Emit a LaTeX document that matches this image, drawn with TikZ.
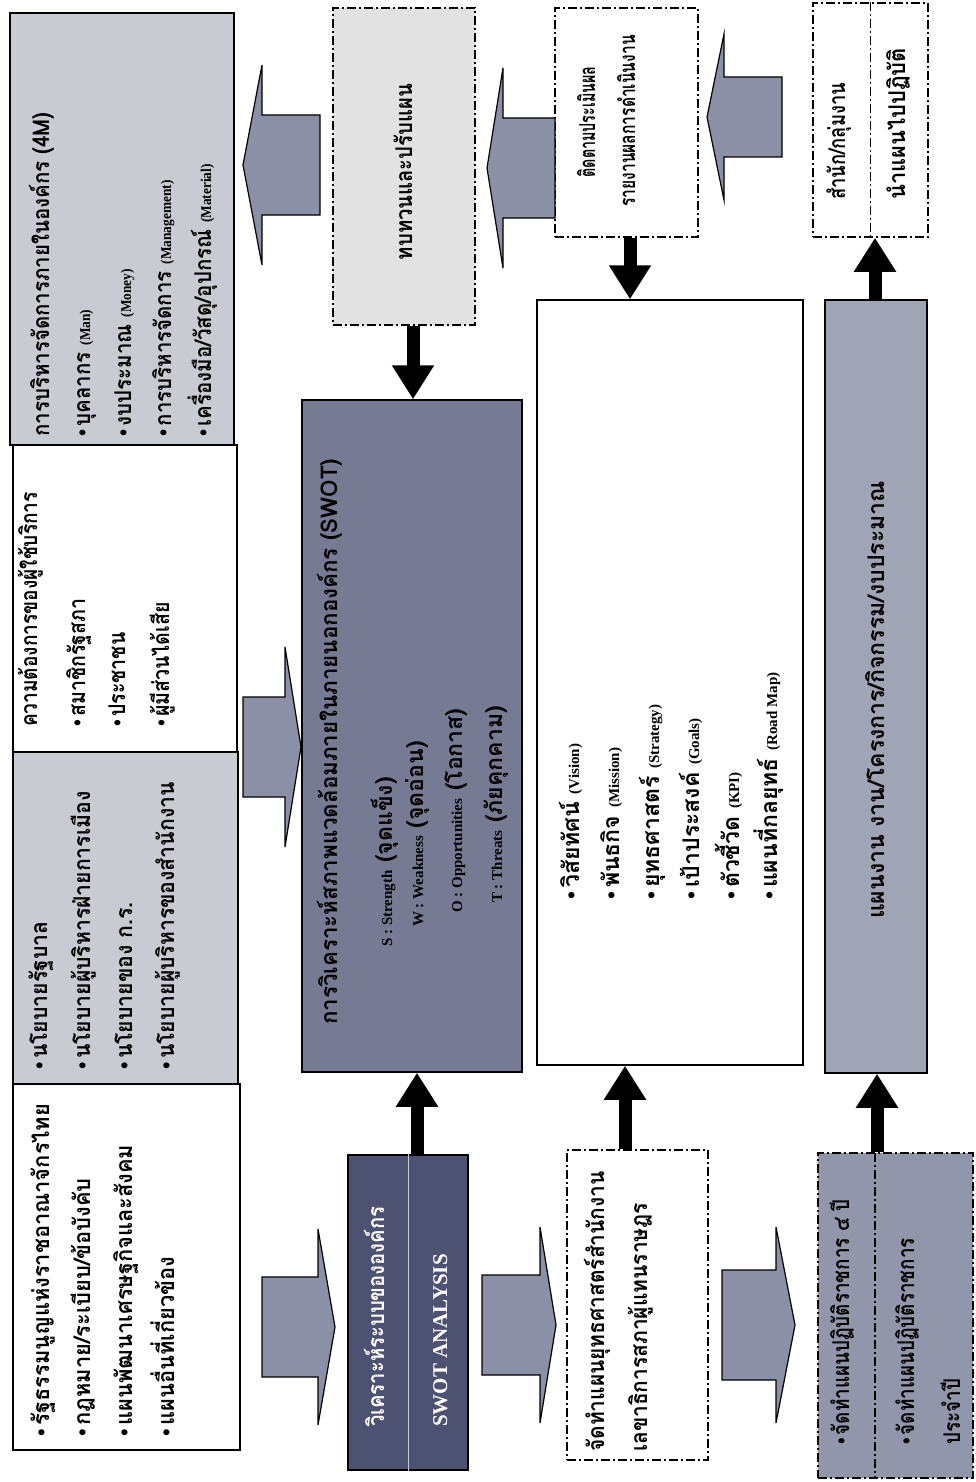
\documentclass[tikz,border=0pt]{standalone}
\usepackage{fontspec}
\newfontfamily\thai[Script=Thai]{Loma}
\newfontfamily\eng{Liberation Serif}
\usetikzlibrary{arrows.meta}
\definecolor{grayA}{HTML}{C8CBD2}
\definecolor{darkA}{HTML}{767B93}
\definecolor{darkB}{HTML}{4E5272}
\definecolor{arrfill}{HTML}{8B90A6}
\definecolor{lightA}{HTML}{E2E2E2}
\definecolor{grayC}{HTML}{A0A5B5}
\definecolor{grayD}{HTML}{9196AB}
\newcommand\E[1]{{\eng\fontsize{15}{17}\selectfont #1}}
\newcommand\bu{{\eng •}\,}
\newcommand\blockarr[6]{\draw[barrow] (#1,{#4-#5}) -- (#2,{#4-#5}) -- (#2,{#4-#6}) -- (#3,#4) -- (#2,{#4+#6}) -- (#2,{#4+#5}) -- (#1,{#4+#5}) -- cycle;}
\newcommand\boxat[6]{\node[#2, minimum width={(#5-#3)*1pt}, minimum height={(#6-#4)*1pt}] (#1) at ({(#3+#5)/2},{(#4+#6)/2}) {};}
\newcommand\thline[5][]{\node[tl,#1] (#2) at ({#3+7},#4) {#5};}
\newcommand\thcent[5][]{\node[tc,#1] (#2) at ({#3+7},#4) {#5};}
\tikzset{
  box/.style={draw, line width=1.5pt, inner sep=0pt},
  dbox/.style={draw, line width=1.5pt, inner sep=0pt, dash pattern=on 9pt off 3pt on 2pt off 3pt},
  tl/.style={rotate=90, anchor=base west, inner sep=0pt, font=\thai\bfseries\fontsize{23}{26}\selectfont},
  tc/.style={tl, anchor=base},
  small/.style={font=\thai\bfseries\fontsize{22}{25}\selectfont},
  bigarr/.style={line width=13pt, -{Triangle[width=40pt,length=34pt]}},
  barrow/.style={draw, line width=1.2pt, fill=arrfill},
}
\begin{document}
\begin{tikzpicture}[x=1pt,y=-1pt]
\fill[white] (0,0) rectangle (975,1482);
\useasboundingbox (0,0) rectangle (975,1482);

% ---- left column boxes
\boxat{D}{box, fill=grayA}{10}{13}{234}{445}
\boxat{C}{box, fill=white}{13}{445}{237}{752}
\boxat{B}{box, fill=grayA}{13}{752}{238}{1084}
\boxat{A}{box, fill=white}{13}{1084}{240}{1450}

\thline[xscale=0.89]{d0}{42}{437}{การบริหารจัดการภายในองค์กร (4M)}
\thline[xscale=0.89]{d1}{83}{437}{\bu บุคลากร \E{(Man)}}
\thline[xscale=0.89]{d2}{124}{437}{\bu งบประมาณ \E{(Money)}}
\thline[xscale=0.89]{d3}{164}{437}{\bu การบริหารจัดการ \E{(Management)}}
\thline[xscale=0.89]{d4}{204}{437}{\bu เครื่องมือ/วัสดุ/อุปกรณ์ \E{(Material)}}

\thline[xscale=0.83]{c0}{30}{727}{ความต้องการของผู้ใช้บริการ}
\thline[xscale=0.85]{c1}{78}{727}{\bu สมาชิกรัฐสภา}
\thline[xscale=0.85]{c2}{118}{727}{\bu ประชาชน}
\thline[xscale=0.85]{c3}{162}{727}{\bu ผู้มีส่วนได้เสีย}

\thline[xscale=0.92]{b1}{40}{1070}{\bu นโยบายรัฐบาล}
\thline[xscale=0.92]{b2}{83}{1070}{\bu นโยบายผู้บริหารฝ่ายการเมือง}
\thline[xscale=0.92]{b3}{125}{1070}{\bu นโยบายของ ก.ร.}
\thline[xscale=0.92]{b4}{167}{1070}{\bu นโยบายผู้บริหารของสำนักงาน}

\thline[xscale=0.95]{a1}{42}{1437}{\bu รัฐธรรมนูญแห่งราชอาณาจักรไทย}
\thline[xscale=0.95]{a2}{83}{1437}{\bu กฎหมาย/ระเบียบ/ข้อบังคับ}
\thline[xscale=0.95]{a3}{125}{1437}{\bu แผนพัฒนาเศรษฐกิจและสังคม}
\thline[xscale=0.95]{a4}{167}{1437}{\bu แผนอื่นที่เกี่ยวข้อง}

% ---- second column
\boxat{tbt}{dbox, fill=lightA}{333}{8}{475}{325}
\thcent[xscale=0.88]{tbt0}{405}{172}{ทบทวนและปรับแผน}

\boxat{swot}{box, fill=darkA}{302}{400}{522}{1072}
\thline[xscale=0.97]{s0}{330}{1025}{การวิเคราะห์สภาพแวดล้อมภายในภายนอกองค์กร (SWOT)}
\thline{s1}{385}{947}{\E{S : Strength} (จุดแข็ง)}
\thline{s2}{416}{927}{\E{W : Weakness} (จุดอ่อน)}
\thline{s3}{455}{913}{\E{O : Opportunities} (โอกาส)}
\thline{s4}{495}{903}{\E{T : Threats} (ภัยคุกคาม)}

\boxat{swotan}{box, fill=darkB}{348}{1155}{468}{1470}
\draw[white!70!darkB, line width=1pt] (swotan.north) -- (swotan.south);
\thline[text=white, xscale=0.88]{sa0}{377}{1427}{วิเคราะห์ระบบขององค์กร}
\node[tl, text=white, font=\eng\bfseries\fontsize{21}{24}\selectfont] (sa1) at (447,1427) {SWOT ANALYSIS};

% ---- third column
\boxat{track}{dbox, fill=white}{555}{8}{698}{237}
\thcent[small, xscale=0.65]{tr0}{588}{122}{ติดตามประเมินผล}
\thcent[small, xscale=0.71]{tr1}{628}{121}{รายงานผลการดำเนินงาน}

\boxat{vis}{box, fill=white}{537}{300}{803}{1065}
\thline{v1}{572}{900}{\bu วิสัยทัศน์ \E{(Vision)}}
\thline{v2}{612}{900}{\bu พันธกิจ \E{(Mission)}}
\thline{v3}{652}{900}{\bu ยุทธศาสตร์ \E{(Strategy)}}
\thline{v4}{692}{900}{\bu เป้าประสงค์ \E{(Goals)}}
\thline{v5}{732}{900}{\bu ตัวชี้วัด \E{(KPI)}}
\thline{v6}{770}{900}{\bu แผนที่กลยุทธ์ \E{(Road Map)}}

\boxat{strat}{dbox, fill=white}{567}{1150}{708}{1460}
\thline[xscale=0.91]{st0}{597}{1452}{จัดทำแผนยุทธศาสตร์สำนักงาน}
\thline[xscale=0.91]{st1}{640}{1452}{เลขาธิการสภาผู้แทนราษฎร}

% ---- fourth column
\boxat{topr}{dbox, fill=white}{813}{3}{928}{237}
\draw[dash pattern=on 9pt off 3pt on 2pt off 3pt, line width=1.2pt] (topr.north) -- (topr.south);
\thline[xscale=0.8]{tp0}{838}{200}{สำนัก/กลุ่มงาน}
\thline[xscale=0.95]{tp1}{898}{200}{นำแผนไปปฏิบัติ}

\boxat{plan}{box, fill=grayC}{825}{300}{927}{1073}
\thcent{pl0}{877}{700}{แผนงาน งาน/โครงการ/กิจกรรม/งบประมาณ}

\boxat{act}{dbox, fill=grayD}{818}{1153}{973}{1478}
\draw[dash pattern=on 9pt off 3pt on 2pt off 3pt, line width=1.2pt] (875,1153) -- (875,1478);
\thline[xscale=0.82]{ac0}{842}{1445}{\bu จัดทำแผนปฏิบัติราชการ ๔ ปี}
\thline[xscale=0.82]{ac1}{907}{1445}{\bu จัดทำแผนปฏิบัติราชการ}
\thline[xscale=0.82]{ac2}{953}{1445}{ประจำปี}

% ---- block arrows
\blockarr{262}{318}{335}{1327}{50}{98}
\blockarr{243}{285}{301}{747}{50}{100}
\blockarr{482}{540}{556}{1325}{50}{98}
\blockarr{722}{776}{795}{1325}{55}{98}
\blockarr{320}{262}{243}{165}{50}{100}
\blockarr{555}{503}{487}{168}{50}{100}
\blockarr{782}{724}{707}{117}{40}{83}

% ---- black arrows
\coordinate (x1) at (413,0);
\coordinate (x2) at (417,0);
\coordinate (x3) at (630,0);
\coordinate (x4) at (625,0);
\coordinate (x5) at (875,0);
\coordinate (x6) at (877,0);
\draw[bigarr] (tbt.south -| x1) -- (swot.north -| x1);
\draw[bigarr] (swotan.north -| x2) -- (swot.south -| x2);
\draw[bigarr] (track.south -| x3) -- (vis.north -| x3);
\draw[bigarr] (strat.north -| x4) -- (vis.south -| x4);
\draw[bigarr] (plan.north -| x5) -- (topr.south -| x5);
\draw[bigarr] (act.north -| x6) -- (plan.south -| x6);
\end{tikzpicture}
\end{document}
